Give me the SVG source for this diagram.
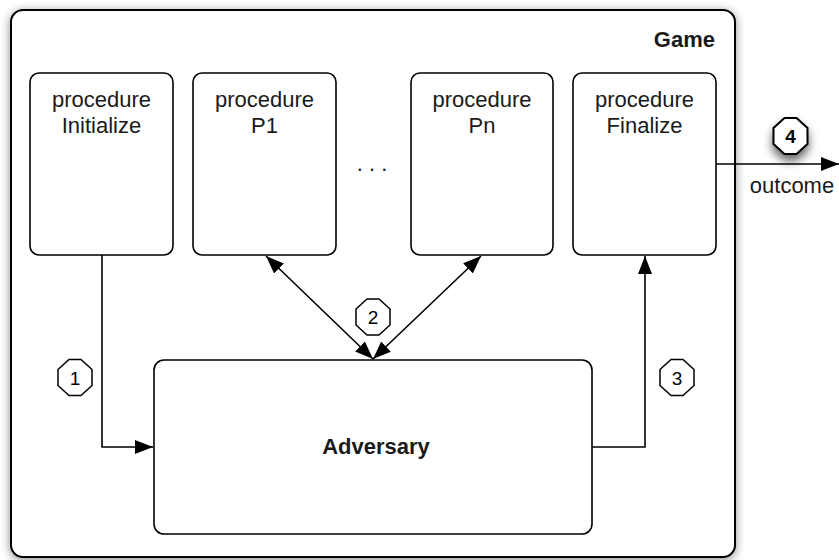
<svg xmlns="http://www.w3.org/2000/svg" width="839" height="560" viewBox="0 0 839 560">
<style>
.box{fill:#fff;stroke:#000;stroke-width:1.6}
.t{font-family:"Liberation Sans",Arial,sans-serif;font-size:22px;fill:#1a1a1a;text-anchor:middle}
.b{font-weight:bold}
.oct{fill:#fff;stroke:#000;stroke-width:1.5}
.n{font-family:"Liberation Sans",Arial,sans-serif;font-size:19px;fill:#000;text-anchor:middle}
.c{fill:none;stroke:#000;stroke-width:1.6}
</style>
<defs>
<filter id="sh" x="-10%" y="-10%" width="120%" height="120%">
<feDropShadow dx="0" dy="2" stdDeviation="5" flood-color="#000" flood-opacity="0.45"/>
</filter>
<filter id="sh2" x="-60%" y="-60%" width="220%" height="240%">
<feDropShadow dx="0" dy="6" stdDeviation="5" flood-color="#000" flood-opacity="0.6"/>
</filter>
<marker id="ah" markerUnits="userSpaceOnUse" markerWidth="20" markerHeight="14" refX="18" refY="7" orient="auto-start-reverse">
<path d="M0,0 L18,7 L0,14 Z" fill="#000"/>
</marker>
</defs>
<rect width="839" height="560" fill="#fff"/>
<g id="game">
<rect class="box" x="11" y="10" width="724" height="547" rx="12" filter="url(#sh)" style="stroke-width:2"/>
<text class="t b" x="715" y="47" style="text-anchor:end">Game</text>
</g>
<g id="initialize">
<rect class="box" x="30" y="73" width="143" height="182" rx="9"/>
<text class="t" x="101.5" y="107">procedure</text>
<text class="t" x="101.5" y="133">Initialize</text>
</g>
<g id="p1">
<rect class="box" x="193" y="73" width="143" height="182" rx="9"/>
<text class="t" x="264.5" y="107">procedure</text>
<text class="t" x="264.5" y="133">P1</text>
</g>
<g id="dots">
<text class="t" x="372" y="171">. . .</text>
</g>
<g id="pn">
<rect class="box" x="411" y="73" width="142" height="182" rx="9"/>
<text class="t" x="482" y="107">procedure</text>
<text class="t" x="482" y="133">Pn</text>
</g>
<g id="finalize">
<rect class="box" x="573" y="73" width="143" height="182" rx="9"/>
<text class="t" x="644.5" y="107">procedure</text>
<text class="t" x="644.5" y="133">Finalize</text>
</g>
<g id="adversary">
<rect class="box" x="154" y="360" width="438" height="174" rx="10"/>
<text class="t b" x="376" y="454">Adversary</text>
</g>
<g id="connectors">
<path class="c" d="M102,255 V447 H153" marker-end="url(#ah)"/>
<path class="c" d="M373,359 L266,256" marker-start="url(#ah)" marker-end="url(#ah)"/>
<path class="c" d="M373,359 L481,256" marker-start="url(#ah)" marker-end="url(#ah)"/>
<path class="c" d="M592,447 H645 V256" marker-end="url(#ah)"/>
<path class="c" d="M716,164 H839" marker-end="url(#ah)"/>
<text class="t" x="792" y="193">outcome</text>
</g>
<g id="label1">
<polygon class="oct" points="69,359.5 81,359.5 92,369.5 92,385.5 81,395.5 69,395.5 58,385.5 58,369.5"/>
<text class="n" x="75" y="384.5">1</text>
</g>
<g id="label2">
<polygon class="oct" points="367,299 379,299 390,309 390,325 379,335 367,335 356,325 356,309"/>
<text class="n" x="373" y="324">2</text>
</g>
<g id="label3">
<polygon class="oct" points="671,359.5 683,359.5 694,369.5 694,385.5 683,395.5 671,395.5 660,385.5 660,369.5"/>
<text class="n" x="677" y="384.5">3</text>
</g>
<g id="label4">
<polygon class="oct" points="784.5,118 796.5,118 807.5,128 807.5,144 796.5,154 784.5,154 773.5,144 773.5,128" filter="url(#sh2)" style="stroke-width:2"/>
<text class="n b" x="790.5" y="143">4</text>
</g>
</svg>
